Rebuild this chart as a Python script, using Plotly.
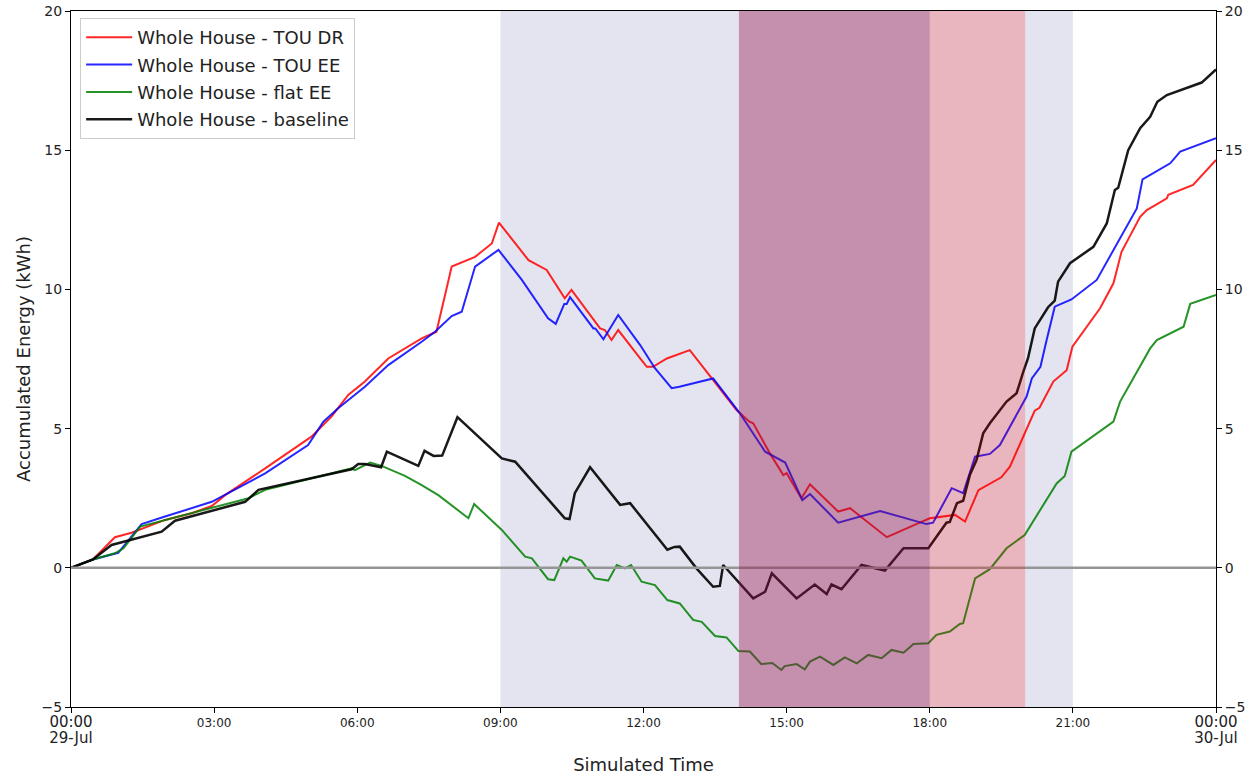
import plotly.graph_objects as go

# ---- data (hours since 00:00 29-Jul, accumulated energy kWh) ----
red_h = [0, 0.46, 0.92, 1.27, 1.97, 2.53, 2.95, 3.23, 4.07, 5.04, 5.46, 5.81, 6.16, 6.65, 7.35, 7.66,
         7.98, 8.47, 8.82, 8.97, 9.59, 9.97, 10.35, 10.49, 11.09, 11.19, 11.33, 11.47, 11.93, 12.07,
         12.2, 12.49, 12.97, 13.46, 13.95, 14.22, 14.3, 14.65, 14.93, 15.0, 15.31, 15.49, 16.08, 16.33,
         17.1, 17.79, 18.0, 18.53, 18.74, 19.02, 19.5, 19.68, 20.03, 20.2, 20.3, 20.59, 20.87, 20.99,
         21.57, 21.85, 22.02, 22.41, 22.55, 22.97, 23.0, 23.52, 24.0]
red_v = [0, 0.3, 1.1, 1.26, 1.72, 1.96, 2.22, 2.61, 3.57, 4.71, 5.43, 6.21, 6.69, 7.52, 8.24, 8.48,
         10.82, 11.17, 11.65, 12.4, 11.05, 10.7, 9.68, 9.98, 8.6, 8.54, 8.18, 8.54, 7.52, 7.22,
         7.22, 7.52, 7.82, 6.75, 5.67, 5.25, 5.19, 4.11, 3.33, 3.4, 2.5, 3.0, 2.02, 2.14,
         1.1, 1.62, 1.78, 1.9, 1.66, 2.79, 3.25, 3.63, 4.95, 5.64, 5.75, 6.69, 7.1, 7.94,
         9.32, 10.22, 11.35, 12.61, 12.85, 13.27, 13.4, 13.75, 14.65]

blue_h = [0, 0.46, 0.99, 1.48, 1.97, 2.95, 4.07, 4.97, 5.29, 5.6, 6.16, 6.65, 7.35, 7.63, 7.98, 8.19,
          8.47, 8.96, 9.45, 10.0, 10.16, 10.34, 10.39, 10.46, 10.95, 10.99, 11.16, 11.47, 11.93, 12.24,
          12.59, 12.75, 13.46, 14.02, 14.55, 14.97, 15.33, 15.49, 16.08, 16.96, 17.93, 18.07, 18.46,
          18.7, 18.95, 19.26, 19.47, 20.03, 20.14, 20.32, 20.45, 20.62, 20.97, 21.5, 22.34, 22.46,
          23.04, 23.25, 24.0]
blue_v = [0, 0.3, 0.54, 1.57, 1.84, 2.37, 3.39, 4.41, 5.25, 5.73, 6.5, 7.28, 8.12, 8.48, 9.04, 9.2,
          10.82, 11.42, 10.34, 8.96, 8.76, 9.48, 9.48, 9.72, 8.6, 8.6, 8.21, 9.08, 8.0, 7.17,
          6.45, 6.5, 6.8, 5.55, 4.17, 3.78, 2.43, 2.65, 1.62, 2.04, 1.57, 1.62, 2.86,
          2.68, 3.99, 4.09, 4.41, 6.15, 6.8, 7.22, 8.18, 9.38, 9.64, 10.34, 12.91, 13.95,
          14.53, 14.95, 15.43]

green_h = [0, 0.46, 0.92, 1.1, 1.45, 3.02, 3.72, 4.07, 5.88, 5.95, 6.27, 6.51, 7.0, 7.35, 7.7, 8.33,
           8.45, 9.03, 9.52, 9.66, 10.0, 10.13, 10.32, 10.39, 10.46, 10.7, 10.98, 11.26, 11.44, 11.61,
           11.74, 11.96, 12.24, 12.5, 12.76, 13.04, 13.22, 13.5, 13.74, 13.99, 14.23, 14.47, 14.7,
           14.89, 14.96, 15.21, 15.38, 15.49, 15.7, 15.98, 16.22, 16.47, 16.71, 16.99, 17.2, 17.45,
           17.66, 17.97, 18.14, 18.42, 18.63, 18.7, 18.95, 19.26, 19.61, 19.99, 20.66, 20.83, 20.97,
           21.85, 21.99, 22.62, 22.76, 23.32, 23.46, 24.0]
green_v = [0, 0.3, 0.52, 0.7, 1.48, 2.19, 2.5, 2.8, 3.57, 3.51, 3.78, 3.66, 3.3, 2.97, 2.61, 1.78,
           2.29, 1.36, 0.4, 0.34, -0.41, -0.44, 0.34, 0.22, 0.4, 0.26, -0.38, -0.46, 0.1, -0.02,
           0.1, -0.5, -0.62, -1.16, -1.28, -1.87, -1.94, -2.45, -2.5, -2.99, -3.01, -3.46, -3.42,
           -3.67, -3.53, -3.46, -3.65, -3.37, -3.19, -3.49, -3.22, -3.43, -3.13, -3.25, -2.95, -3.05,
           -2.74, -2.71, -2.41, -2.29, -2.02, -1.99, -0.38, -0.05, 0.7, 1.18, 3.03, 3.3, 4.17,
           5.25, 5.97, 7.88, 8.18, 8.66, 9.48, 9.8]

black_h = [0, 0.46, 0.85, 1.9, 2.18, 3.65, 3.93, 4.21, 5.88, 6.02, 6.16, 6.5, 6.62, 7.28, 7.41, 7.6,
           7.78, 8.1, 9.03, 9.31, 10.35, 10.45, 10.56, 10.88, 11.51, 11.72, 12.24, 12.5, 12.65, 12.76,
           13.11, 13.46, 13.6, 13.67, 14.3, 14.55, 14.69, 15.21, 15.59, 15.84, 15.94, 16.15, 16.57,
           17.06, 17.45, 17.97, 18.35, 18.42, 18.57, 18.7, 18.84, 18.98, 19.12, 19.26, 19.61, 19.82,
           19.96, 20.06, 20.2, 20.48, 20.62, 20.69, 20.94, 21.43, 21.71, 21.88, 21.95, 22.16, 22.41,
           22.62, 22.77, 22.97, 23.7, 24.0]
black_v = [0, 0.3, 0.82, 1.3, 1.69, 2.37, 2.8, 2.91, 3.54, 3.73, 3.73, 3.61, 4.17, 3.66, 4.2, 4.02,
           4.03, 5.41, 3.93, 3.81, 1.78, 1.75, 2.68, 3.61, 2.26, 2.32, 1.18, 0.65, 0.75, 0.76,
           -0.02, -0.68, -0.65, 0.1, -1.1, -0.86, -0.2, -1.1, -0.6, -0.94, -0.6, -0.77, 0.1,
           -0.1, 0.7, 0.7, 1.62, 1.65, 2.32, 2.41, 3.33, 3.87, 4.83, 5.19, 5.97, 6.27,
           7.04, 7.53, 8.6, 9.36, 9.6, 10.28, 10.94, 11.53, 12.37, 13.57, 13.65, 15.0, 15.79,
           16.2, 16.74, 16.98, 17.43, 17.9]

series_names = ["Whole House - TOU DR", "Whole House - TOU EE", "Whole House - flat EE", "Whole House - baseline"]
x_tick_vals = [0, 3, 6, 9, 12, 15, 18, 21, 24]
x_tick_text = ["<span style='font-size:15px'>00:00<br>29-Jul</span>", "03:00", "06:00", "09:00", "12:00",
               "15:00", "18:00", "21:00", "<span style='font-size:15px'>00:00<br>30-Jul</span>"]
y_tick_vals = [-5, 0, 5, 10, 15, 20]
zero_h = [0, 24]
zero_v = [0, 0]

FONT = "DejaVu Sans"
fig = go.Figure()

fig.add_trace(go.Scatter(x=zero_h, y=zero_v, mode="lines", line=dict(color="rgb(150,150,150)", width=2.5),
                         showlegend=False, hoverinfo="skip", yaxis="y2"))

for i, (name, hh, vv, col, w) in enumerate([
    (series_names[0], red_h, red_v, "rgba(255,0,0,0.85)", 2),
    (series_names[1], blue_h, blue_v, "rgba(0,0,255,0.85)", 2),
    (series_names[2], green_h, green_v, "rgba(0,128,0,0.85)", 2),
    (series_names[3], black_h, black_v, "rgba(0,0,0,0.9)", 2.5),
]):
    fig.add_trace(go.Scatter(x=hh, y=vv, mode="lines", name=name, legendgroup=f"g{i}",
                             line=dict(color=col, width=w)))

shapes = [
    dict(type="rect", xref="x", yref="paper", x0=9, x1=21, y0=0, y1=1,
         fillcolor="rgb(228,228,240)", line=dict(width=0), layer="below"),
    dict(type="rect", xref="x", yref="paper", x0=14, x1=18, y0=0, y1=1,
         fillcolor="rgb(148,18,75)", opacity=0.4, line=dict(width=0), layer="above"),
    dict(type="rect", xref="x", yref="paper", x0=18, x1=20, y0=0, y1=1,
         fillcolor="rgb(255,0,0)", opacity=0.2, line=dict(width=0), layer="above"),
]

fig.update_layout(
    width=1254, height=780,
    margin=dict(l=71, r=38, t=11, b=73),
    paper_bgcolor="white", plot_bgcolor="white",
    font=dict(family=FONT, color="#222222"),
    shapes=shapes,
    showlegend=True,
    legend=dict(x=0.008, y=0.99, xanchor="left", yanchor="top", tracegroupgap=1, itemwidth=46,
                bgcolor="rgba(255,255,255,0.9)", bordercolor="#cccccc", borderwidth=1,
                font=dict(size=18, family=FONT, color="#222222")),
    xaxis=dict(range=[0, 24], tickmode="array", tickvals=x_tick_vals, ticktext=x_tick_text,
               showgrid=False, zeroline=False, showline=True, linecolor="black", linewidth=1,
               mirror=True, ticks="outside", ticklen=5, tickcolor="black", automargin=False,
               tickfont=dict(size=12, family=FONT),
               title=dict(text="Simulated Time", font=dict(size=18, family=FONT), standoff=12)),
    yaxis=dict(range=[-5, 20], tickmode="array", tickvals=y_tick_vals,
               showgrid=False, zeroline=False, showline=True, linecolor="black", linewidth=1,
               mirror=True, ticks="outside", ticklen=5, tickcolor="black", automargin=False,
               tickfont=dict(size=14, family=FONT),
               title=dict(text="Accumulated Energy (kWh)", font=dict(size=18, family=FONT), standoff=6)),
    yaxis2=dict(range=[-5, 20], tickmode="array", tickvals=y_tick_vals, overlaying="y", side="right",
                showgrid=False, zeroline=False, showline=False, automargin=False,
                ticks="outside", ticklen=5, tickcolor="black",
                tickfont=dict(size=14, family=FONT)),
)

fig.write_html("out.html")
